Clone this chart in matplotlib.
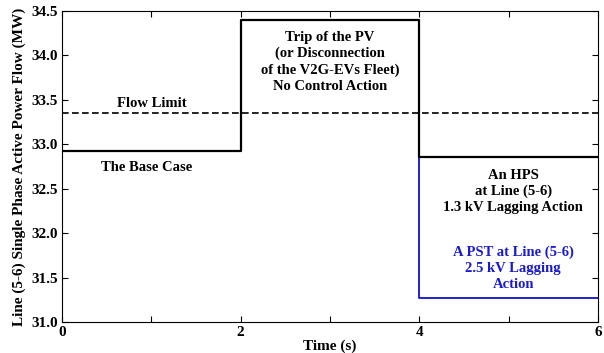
import matplotlib
matplotlib.use("Agg")
import matplotlib.pyplot as plt

t_base = [0, 2, 2, 4, 4, 6]
p_base = [32.92, 32.92, 34.40, 34.40, 32.86, 32.86]
t_pst = [4, 4, 6]
p_pst = [32.86, 31.27, 31.27]
flow_limit = 33.35

plt.rcParams['font.family'] = ['Liberation Serif', 'DejaVu Serif']
plt.rcParams['font.weight'] = 'bold'

fig = plt.figure(figsize=(6.04, 3.53), dpi=100)
ax = fig.add_axes([62/604, 31/353, 536/604, 311/353])

ax.plot(t_pst, p_pst, color='#1010d0', lw=1.3)
ax.plot(t_base, p_base, color='black', lw=1.6)
ax.axhline(flow_limit, color='black', ls='--', lw=1.2, dashes=(4, 2))

ax.set_xlim(0, 6)
ax.set_ylim(31.0, 34.5)
ax.set_xticks([0, 1, 2, 3, 4, 5, 6])
ax.set_xticklabels(['0', '', '2', '', '4', '', '6'])
ax.set_yticks([31.0, 31.5, 32.0, 32.5, 33.0, 33.5, 34.0, 34.5])
ax.set_yticklabels(['31.0', '31.5', '32.0', '32.5', '33.0', '33.5', '34.0', '34.5'])
ax.tick_params(direction='in', top=True, right=True, labelsize=11, length=4, pad=3)
for lab in ax.get_xticklabels() + ax.get_yticklabels():
    lab.set_fontweight('bold')

ax.set_xlabel('Time (s)', fontsize=11, fontweight='bold', labelpad=0)
ax.set_ylabel('Line (5-6) Single Phase Active Power Flow (MW)', fontsize=11, fontweight='bold', labelpad=4)

kw = dict(ha='center', va='center', fontsize=10.5, fontweight='bold', linespacing=1.3)
ax.text(1.0, 33.46, 'Flow Limit', **kw)
ax.text(0.95, 32.74, 'The Base Case', **kw)
ax.text(3.0, 33.93, 'Trip of the PV\n(or Disconnection\nof the V2G-EVs Fleet)\nNo Control Action', **kw)
ax.text(5.05, 32.47, 'An HPS\nat Line (5-6)\n1.3 kV Lagging Action', **kw)
ax.text(5.05, 31.61, 'A PST at Line (5-6)\n2.5 kV Lagging\nAction', color='#1a1ad0', **kw)

fig.savefig('out.png', dpi=100)
